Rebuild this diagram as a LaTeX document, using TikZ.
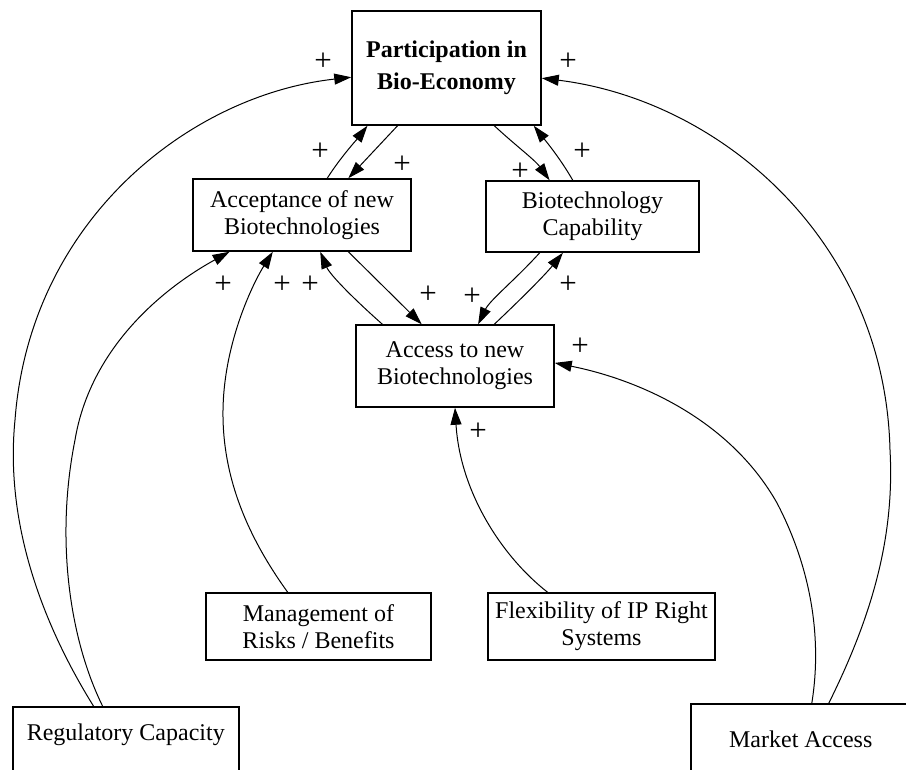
\documentclass[tikz,border=0pt]{standalone}
\usepackage{fontspec}
\setmainfont{Liberation Serif}
\usetikzlibrary{arrows.meta,calc}
\begin{document}
\begin{tikzpicture}[x=1bp,y=-1bp,
  box/.style={draw,line width=1.5bp,align=center,inner sep=0pt,font=\fontsize{24bp}{27bp}\selectfont},
  link/.style={line width=1bp,-{Triangle[length=17bp,width=11bp]}},
  plus/.style={font=\fontsize{31bp}{31bp}\selectfont,inner sep=0pt}]
\path[use as bounding box,fill=white] (0,0) rectangle (906,770);
% boxes
\node[box,minimum width=189bp,minimum height=114bp,font=\fontsize{24bp}{32bp}\selectfont\bfseries] (P) at (446.5,68) {Participation in\\Bio-Economy};
\node[box,minimum width=218bp,minimum height=72bp] (A) at (302,215) {Acceptance of new\\Biotechnologies};
\node[box,minimum width=213bp,minimum height=71bp] (C) at (592.5,216.5) {Biotechnology\\Capability};
\node[box,minimum width=198bp,minimum height=82bp] (X) at (455,366) {Access to new\\Biotechnologies};
\node[box,minimum width=225bp,minimum height=67bp] (M) at (318.5,626.5) {Management of\\Risks / Benefits};
\node[box,minimum width=227bp,minimum height=67bp] (F) at (601.5,626.5) {Flexibility of IP Right\\Systems};
\node[box,anchor=north west,minimum width=226bp,text height=17bp,text depth=40bp,inner ysep=17bp] (R) at (12,706) {Regulatory Capacity};
\node[box,anchor=north west,minimum width=220bp,text height=27bp,text depth=30bp,inner ysep=17bp] (MA) at (690,703) {Market Access};
% connectors
\draw[link] ($(R.north west)!0.358!(R.north east)$) .. controls (40,620) and (5,520) .. (15,420) .. controls (30,220) and (190,95) .. ($(P.north west)!0.58!(P.south west)$);
\draw[link] ($(R.north west)!0.398!(R.north east)$) .. controls (70,640) and (55,540) .. (75,440) .. controls (90,350) and (160,290) .. ($(A.south west)!0.17!(A.south east)$);
\draw[link] ($(M.north west)!0.364!(M.north east)$) .. controls (250,540) and (222,480) .. (223,410) .. controls (224,340) and (255,280) .. ($(A.south west)!0.367!(A.south east)$);
\draw[link] ($(X.north west)!0.136!(X.north east)$) .. controls (355,300) and (330,275) .. ($(A.south west)!0.583!(A.south east)$);
\draw[link] ($(A.south west)!0.711!(A.south east)$) -- ($(X.north west)!0.333!(X.north east)$);
\draw[link] ($(A.north west)!0.615!(A.north east)$) .. controls (340,158) and (358,138) .. ($(P.south west)!0.085!(P.south east)$);
\draw[link] ($(P.south west)!0.243!(P.south east)$) -- ($(A.north west)!0.711!(A.north east)$);
\draw[link] ($(P.south west)!0.751!(P.south east)$) .. controls (515,145) and (535,160) .. ($(C.north west)!0.30!(C.north east)$);
\draw[link] ($(C.north west)!0.408!(C.north east)$) .. controls (560,158) and (545,140) .. ($(P.south west)!0.958!(P.south east)$);
\draw[link] ($(C.south west)!0.254!(C.south east)$) .. controls (515,280) and (490,300) .. ($(X.north west)!0.616!(X.north east)$);
\draw[link] ($(X.north west)!0.697!(X.north east)$) .. controls (520,300) and (545,275) .. ($(C.south west)!0.362!(C.south east)$);
\draw[link] ($(F.north west)!0.264!(F.north east)$) .. controls (500,555) and (460,490) .. ($(X.south west)!0.5!(X.south east)$);
\draw[link] ($(MA.north west)!0.55!(MA.north east)$) .. controls (822,640) and (812,570) .. (777,503) .. controls (730,420) and (640,380) .. ($(X.north east)!0.463!(X.south east)$);
\draw[link] ($(MA.north west)!0.627!(MA.north east)$) .. controls (870,620) and (895,540) .. (890,450) .. controls (885,240) and (720,100) .. ($(P.north east)!0.588!(P.south east)$);
% plus signs
\node[plus] (s1) at (323,62) {+};
\node[plus] (s2) at (223,285) {+};
\node[plus] (s3) at (282,285) {+};
\node[plus] (s4) at (310,285) {+};
\node[plus] (s5) at (428,295) {+};
\node[plus] (s6) at (320,152) {+};
\node[plus] (s7) at (402,165) {+};
\node[plus] (s8) at (520,172) {+};
\node[plus] (s9) at (582,152) {+};
\node[plus] (s10) at (472,297) {+};
\node[plus] (s11) at (568,285) {+};
\node[plus] (s12) at (478,432) {+};
\node[plus] (s13) at (580,347) {+};
\node[plus] (s14) at (568,62) {+};
\end{tikzpicture}
\end{document}
